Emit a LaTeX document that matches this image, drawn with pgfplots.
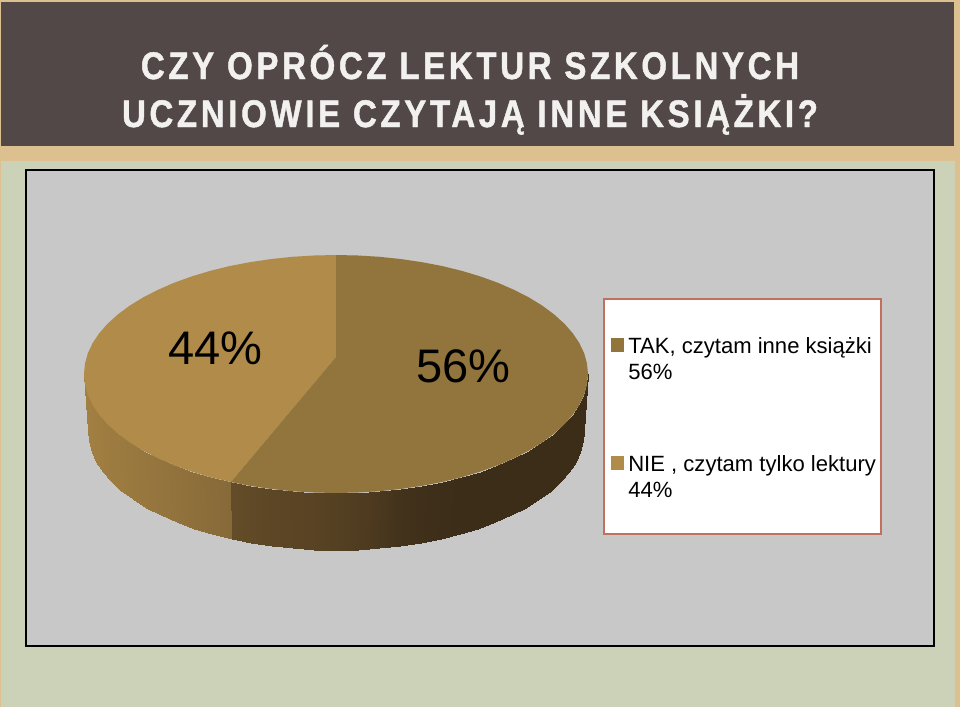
\documentclass[border=0pt]{standalone}
\usepackage{fontspec}
\usepackage{pgfplots}
\pgfplotsset{compat=1.18}
\setmainfont{Liberation Sans}
\newfontfamily\titlefont[LetterSpace=9.5,FakeStretch=0.86,FakeBold=1.2]{Liberation Sans Bold}

\definecolor{tan}{RGB}{221,192,143}
\definecolor{band}{RGB}{82,72,72}
\definecolor{panel}{RGB}{204,210,184}
\definecolor{plotbg}{RGB}{200,200,200}
\definecolor{tak}{RGB}{145,117,60}
\definecolor{nie}{RGB}{176,139,73}
\definecolor{frame}{RGB}{192,112,92}
\definecolor{titletxt}{RGB}{243,241,240}

\begin{document}
\begin{tikzpicture}
\begin{axis}[
    scale only axis, width=720pt, height=530.25pt,
    xmin=0, xmax=960, ymin=0, ymax=707, y dir=reverse,
    hide axis,
    colormap={wall}{rgb255(0)=(60,45,25) rgb255(3)=(95,72,38) rgb255(5)=(130,102,55) rgb255(10)=(168,132,68)},
    point meta min=0, point meta max=1,
]
% page background
\addplot[fill=tan, draw=none] coordinates {(0,0) (960,0) (960,707) (0,707)} -- cycle;
\addplot[fill=band, draw=none] coordinates {(1,2) (954,2) (954,146) (1,146)} -- cycle;
\addplot[fill=panel, draw=none] coordinates {(1,161) (955,161) (955,707) (1,707)} -- cycle;
\addplot[fill=plotbg, draw=black, line width=0.8pt] coordinates {(26,170) (934,170) (934,646) (26,646)} -- cycle;

% wall of the NIE slice
\addplot[surf, shader=interp, mesh/rows=2, point meta=explicit] table[meta=m] {
x y m
84 374 0.92
85 384.4 0.92
87.8 394.7 0.91
92.6 404.8 0.90
99.2 414.7 0.88
107.6 424.3 0.86
117.8 433.5 0.84
129.6 442.3 0.81
143 450.5 0.78
157.8 458.1 0.75
174 465.2 0.71
191.5 471.5 0.66
210 477.1 0.61
231 482 0.56
88 431 0.92
88.9 441.4 0.92
91.8 451.7 0.91
96.5 461.8 0.90
103 471.7 0.88
111.2 481.3 0.86
121.2 490.5 0.84
132.8 499.3 0.81
146 507.5 0.78
160.6 515.1 0.75
176.6 522.2 0.71
193.7 528.5 0.66
212 534.1 0.61
232 538.9 0.56
};
% wall of the TAK slice
\addplot[surf, shader=interp, mesh/rows=2, point meta=explicit] table[meta=m] {
x y m
231 482 0.33
249.8 485.8 0.31
270.8 488.9 0.28
292.3 491.2 0.26
314 492.5 0.24
336 493 0.21
358 492.5 0.17
379.7 491.2 0.12
401.2 488.9 0.06
422.2 485.8 0.03
442.5 481.9 0.01
462 477.1 0
480.5 471.5 0
498 465.2 0
514.2 458.1 0
529 450.5 0
542.4 442.3 0
554.2 433.5 0
564.4 424.3 0
572.8 414.7 0
579.4 404.8 0
584.2 394.7 0
587 384.4 0
588 374 0
232 538.9 0.33
251.2 542.8 0.31
271.8 545.9 0.28
292.9 548.2 0.26
314.4 549.5 0.24
336 550 0.21
357.6 549.5 0.17
379.1 548.2 0.12
400.2 545.9 0.06
420.8 542.8 0.03
440.8 538.9 0.01
460 534.1 0
478.3 528.5 0
495.4 522.2 0
511.4 515.1 0
526 507.5 0
539.2 499.3 0
550.8 490.5 0
560.8 481.3 0
569 471.7 0
575.5 461.8 0
580.2 451.7 0
583.1 441.4 0
584 431 0
};

% top of the NIE slice, 44%
\addplot[fill=nie, draw=none] coordinates {
(336,357) (336,255) (314,255.5) (292.3,256.8) (270.8,259.1) (249.8,262.2) (229.5,266.1)
(210,270.9) (191.5,276.5) (174,282.8) (157.8,289.9) (143,297.5) (129.6,305.7) (117.8,314.5)
(107.6,323.7) (99.2,333.3) (92.6,343.2) (87.8,353.3) (85,363.6) (84,374)
(85,384.4) (87.8,394.7) (92.6,404.8) (99.2,414.7) (107.6,424.3) (117.8,433.5) (129.6,442.3)
(143,450.5) (157.8,458.1) (174,465.2) (191.5,471.5) (210,477.1) (231,482)
} -- cycle;
% top of the TAK slice, 56%
\addplot[fill=tak, draw=none] coordinates {
(336,357) (336,255) (358,255.5) (379.7,256.8) (401.2,259.1) (422.2,262.2) (442.5,266.1)
(462,270.9) (480.5,276.5) (498,282.8) (514.2,289.9) (529,297.5) (542.4,305.7) (554.2,314.5)
(564.4,323.7) (572.8,333.3) (579.4,343.2) (584.2,353.3) (587,363.6) (588,374)
(587,384.4) (584.2,394.7) (579.4,404.8) (572.8,414.7) (564.4,424.3) (554.2,433.5) (542.4,442.3)
(529,450.5) (514.2,458.1) (498,465.2) (480.5,471.5) (462,477.1) (442.5,481.9) (422.2,485.8)
(401.2,488.9) (379.7,491.2) (358,492.5) (336,493) (314,492.5) (292.3,491.2) (270.8,488.9)
(249.8,485.8) (231,482)
} -- cycle;

% legend box and swatches
\addplot[fill=white, draw=frame, line width=1.5pt] coordinates {(604,299) (881,299) (881,534) (604,534)} -- cycle;
\addplot[fill=tak, draw=none] coordinates {(611,338) (624,338) (624,352) (611,352)} -- cycle;
\addplot[fill=nie, draw=none] coordinates {(611,456) (624,456) (624,470) (611,470)} -- cycle;

\node[anchor=base west, inner sep=0pt, font=\fontsize{16.55pt}{16.55pt}\selectfont] at (axis cs:628,353) {TAK, czytam inne książki};
\node[anchor=base west, inner sep=0pt, font=\fontsize{16.55pt}{16.55pt}\selectfont] at (axis cs:628,379) {56\%};
\node[anchor=base west, inner sep=0pt, font=\fontsize{16.55pt}{16.55pt}\selectfont] at (axis cs:628,471) {NIE , czytam tylko lektury};
\node[anchor=base west, inner sep=0pt, font=\fontsize{16.55pt}{16.55pt}\selectfont] at (axis cs:628,497) {44\%};

% slice labels
\node[anchor=base west, inner sep=0pt, font=\fontsize{35.3pt}{35.3pt}\selectfont] at (axis cs:168,364) {44\%};
\node[anchor=base west, inner sep=0pt, font=\fontsize{35.3pt}{35.3pt}\selectfont] at (axis cs:416,382) {56\%};

% title
\node[anchor=base, inner sep=0pt, text=titletxt, font=\titlefont\fontsize{28.8pt}{28.8pt}\selectfont] at (axis cs:470,79) {CZY OPRÓCZ LEKTUR SZKOLNYCH};
\node[anchor=base, inner sep=0pt, text=titletxt, font=\titlefont\fontsize{28.8pt}{28.8pt}\selectfont] at (axis cs:470,127) {UCZNIOWIE CZYTAJĄ INNE KSIĄŻKI?};
\end{axis}
\end{tikzpicture}
\end{document}
